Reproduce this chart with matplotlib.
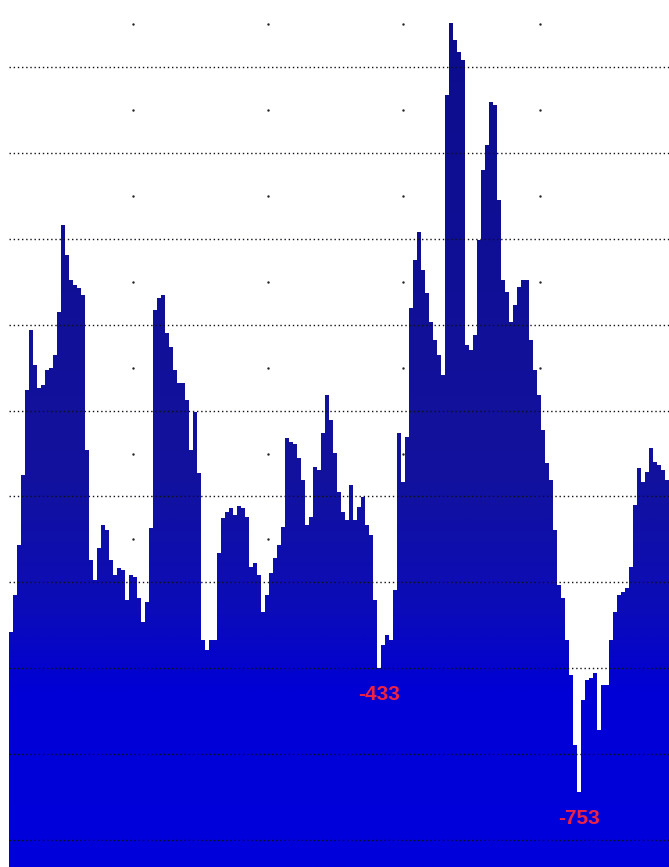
import numpy as np
import matplotlib
matplotlib.use('Agg')
import matplotlib.pyplot as plt
from matplotlib.colors import LinearSegmentedColormap
from matplotlib.patches import Polygon

# one value per bar, read left to right
values = [-341, -245, -116, 64, 284, 439, 348, 289, 297, 335, 341, 374, 485, 709, 632, 568,
          555, 547, 529, 129, -155, -206, -124, -65, -77, -155, -194, -175, -181, -258, -194,
          -199, -253, -315, -263, -72, 490, 521, 529, 431, 395, 335, 302, 302, 258, 129, 227,
          70, -361, -387, -361, -361, -137, -46, -31, -21, -39, -15, -21, -44, -173, -163,
          -194, -289, -245, -188, -150, -116, -70, 160, 150, 144, 108, 52, -65, -44, 85, 77,
          173, 271, 206, 121, 21, -31, -52, 39, -52, -18, 8, -65, -90, -258, -433, -374, -348,
          -361, -232, 173, 46, 163, 495, 619, 691, 593, 534, 459, 413, 374, 323, 1045, 1231,
          1187, 1156, 1135, 400, 387, 426, 671, 851, 916, 1027, 1019, 774, 568, 537, 459, 503,
          550, 568, 568, 413, 335, 271, 181, 95, 52, -77, -219, -253, -361, -452, -632, -753,
          -516, -464, -459, -446, -593, -477, -477, -361, -289, -245, -237, -227, -173, -13, 83,
          46, 72, 134, 98, 90, 77, 52]
marked = [92, 142]   # bars with value labels

y_low, y_high = -947, 1290
grid_step = 221.5
grid_start = -877

values = np.array(values)
n = len(values)
idx = np.arange(n)

fig = plt.figure(figsize=(6.69, 8.67), dpi=100)
ax = fig.add_axes([9 / 669, 0, 660 / 669, 1])
ax.set_xlim(-0.5, n - 0.5)
ax.set_ylim(y_low, y_high)
ax.axis('off')

# faint vertical grid: a single dot between each pair of horizontal lines
hlines = grid_start + grid_step * np.arange(10)
vdots_y = np.append(hlines + grid_step / 2, hlines[0] - grid_step / 2)
for xv in [30.5, 64.25, 98, 132.25]:
    ax.scatter(np.full(len(vdots_y), xv), vdots_y, s=3, color='#222222', zorder=1, lw=0)

# step outline of the bars, used to clip a vertical colour gradient
edges = np.arange(n + 1) - 0.5
xs = np.repeat(edges, 2)[1:-1]
ys = np.repeat(values, 2)
verts = np.column_stack([np.r_[xs[0], xs, xs[-1]], np.r_[y_low - 10, ys, y_low - 10]])
outline = Polygon(verts, closed=True, facecolor='none', edgecolor='none')
ax.add_patch(outline)

cmap = LinearSegmentedColormap.from_list('fill', [(0, '#0000dc'), (0.2, '#0000d6'),
                                                  (0.3, '#0c0cb8'), (0.45, '#12129e'),
                                                  (1.0, '#0c0c8c')])
grad = np.linspace(1, 0, 400).reshape(-1, 1)
im = ax.imshow(grad, cmap=cmap, aspect='auto', extent=(-0.5, n - 0.5, y_low, y_high),
               zorder=2, interpolation='bilinear')
im.set_clip_path(outline)

for yv in hlines:
    ax.axhline(yv, color='#101018', lw=1.0, ls=(0, (1, 2)), zorder=3)

for i in marked:
    ax.annotate(str(values[i]), (idx[i], values[i]), xytext=(0, -19),
                textcoords='offset points', ha='center', va='center',
                color='#ee2244', fontsize=15, fontweight='bold',
                family=['Liberation Sans Narrow', 'Liberation Sans', 'DejaVu Sans'], zorder=4)

fig.savefig('out.png', dpi=100)
